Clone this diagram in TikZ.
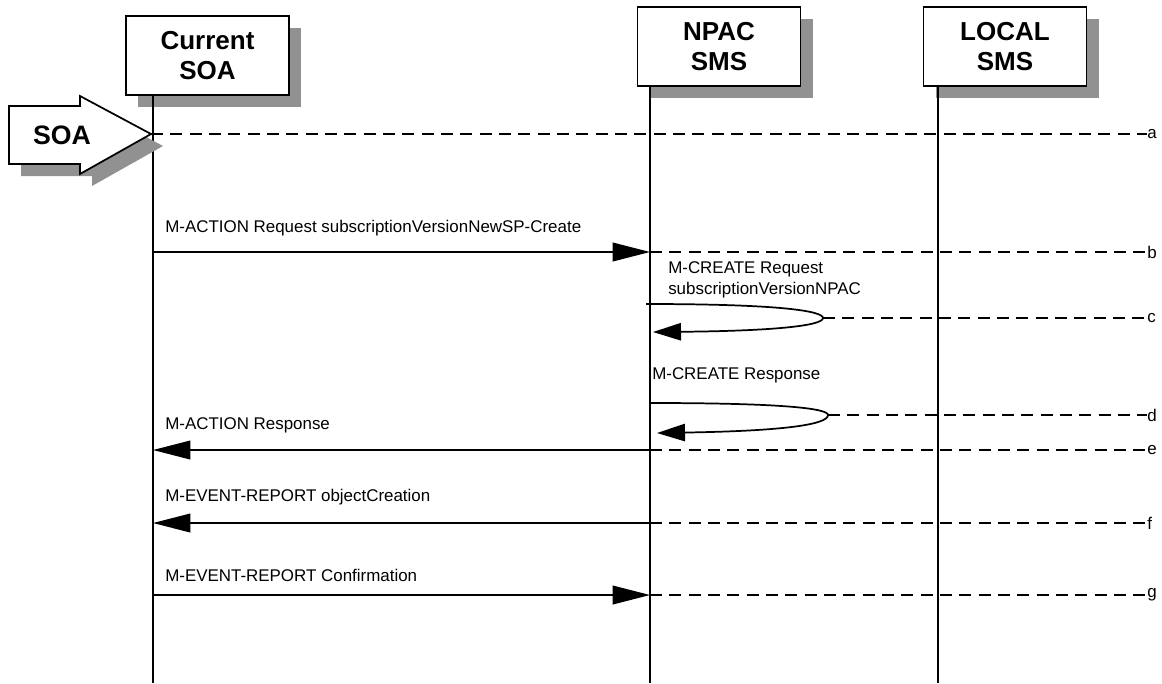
\documentclass[tikz,border=0pt]{standalone}
\usepackage{fontspec}
\setmainfont{Liberation Sans}
\usetikzlibrary{arrows.meta,shadows}
\definecolor{shadowgray}{RGB}{145,145,145}
\begin{document}
\begin{tikzpicture}[x=0.75pt,y=-0.75pt,
  shade/.style={drop shadow={shadow xshift=9pt,shadow yshift=-9pt,fill=shadowgray,opacity=1}},
  actor/.style={draw,line width=1.3pt,fill=white,align=center,inner sep=0pt,
    minimum width=122.25pt,minimum height=59.25pt,
    font=\bfseries\fontsize{19.5}{22}\selectfont,shade},
  life/.style={line width=1.3pt},
  msg/.style={line width=1.3pt,-{Triangle[length=28pt,width=14pt]}},
  selfmsg/.style={line width=1.3pt,-{Triangle[length=21pt,width=13pt]}},
  dashln/.style={line width=1.3pt,dash pattern=on 9pt off 5.5pt},
  txt/.style={font=\fontsize{12.7}{15.5}\selectfont,inner sep=0pt},
  tag/.style={font=\fontsize{12.7}{15.5}\selectfont,inner sep=0pt,anchor=west}]
\useasboundingbox (0,0) rectangle (1162,683);

% actors
\node[actor] (cur) at (207.5,55.5) {Current\\SOA};
\node[actor] (npac) at (719,46.5) {NPAC\\SMS};
\node[actor] (local) at (1005,46.5) {LOCAL\\SMS};

% lifelines
\coordinate (curT) at (153,95);
\coordinate (curB) at (153,683);
\coordinate (npacT) at (650,86);
\coordinate (npacB) at (650,683);
\coordinate (locT) at (938,86);
\coordinate (locB) at (938,683);
\draw[life] (curT) -- (curB);
\draw[life] (npacT) -- (npacB);
\draw[life] (locT) -- (locB);

% SOA arrow
\filldraw[fill=white,line width=1.3pt,shade]
  (9,106) -- (80,106) -- (80,96) -- (151,134) -- (80,174) -- (80,164) -- (9,164) -- cycle;
\coordinate (soatip) at (151,134);
\node[font=\bfseries\fontsize{20}{22}\selectfont,inner sep=0pt] (soa) at (62,135) {SOA};

% step labels
\node[tag] (la) at (1147,134) {a};
\node[tag] (lb) at (1147,252) {b};
\node[tag] (lc) at (1147,318) {c};
\node[tag] (ld) at (1147,415) {d};
\node[tag] (le) at (1147,450) {e};
\node[tag] (lf) at (1147,523) {f};
\node[tag] (lg) at (1147,595) {g};

% a
\draw[dashln] (soatip) -- (la.west);

% b
\coordinate (s1) at (153,252);
\coordinate (n1) at (650,252);
\draw[msg] (s1) -- (n1);
\draw[dashln] (n1) -- (lb.west);
\node[txt,anchor=west] (t1) at (165,228) {M-ACTION Request subscriptionVersionNewSP-Create};

% c
\coordinate (c0) at (646,304);
\coordinate (c1) at (823,318);
\coordinate (c2) at (653,332);
\draw[selfmsg] (c0) .. controls (780,304) and (823,311) .. (c1) .. controls (823,326) and (770,331) .. (c2);
\draw[dashln] (c1) -- (lc.west);
\node[txt,anchor=west,align=left] (t2) at (668,280) {M-CREATE Request\\subscriptionVersionNPAC};

% d
\coordinate (d0) at (650,403);
\coordinate (d1) at (828,415);
\coordinate (d2) at (657,433);
\draw[selfmsg] (d0) .. controls (790,403) and (828,409) .. (d1) .. controls (828,425) and (780,431) .. (d2);
\draw[dashln] (d1) -- (ld.west);
\node[txt,anchor=west] (t3) at (652,375) {M-CREATE Response};

% e
\coordinate (n4) at (650,450);
\coordinate (s4) at (153,450);
\draw[msg] (n4) -- (s4);
\draw[dashln] (n4) -- (le.west);
\node[txt,anchor=west] (t4) at (165,425) {M-ACTION Response};

% f
\coordinate (n5) at (650,523);
\coordinate (s5) at (153,523);
\draw[msg] (n5) -- (s5);
\draw[dashln] (n5) -- (lf.west);
\node[txt,anchor=west] (t5) at (165,497) {M-EVENT-REPORT objectCreation};

% g
\coordinate (s6) at (153,595);
\coordinate (n6) at (650,595);
\draw[msg] (s6) -- (n6);
\draw[dashln] (n6) -- (lg.west);
\node[txt,anchor=west] (t6) at (165,575) {M-EVENT-REPORT Confirmation};
\end{tikzpicture}
\end{document}
